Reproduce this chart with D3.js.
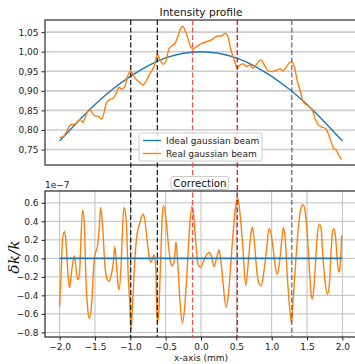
<!DOCTYPE html>
<html><head><meta charset="utf-8">
<script src="https://cdn.jsdelivr.net/npm/d3@7/dist/d3.min.js"></script>
<style>body{margin:0;background:#fff}svg{display:block;font-family:"DejaVu Sans",sans-serif}</style>
</head><body><svg id="c" width="355" height="364"></svg>
<script>
// ---------- data ----------
const xTicks = [-2.0,-1.5,-1.0,-0.5,0.0,0.5,1.0,1.5,2.0];
const topYTicks = [0.75,0.80,0.85,0.90,0.95,1.00,1.05];
const botYTicks = [-0.8,-0.6,-0.4,-0.2,0.0,0.2,0.4,0.6];
const seriesNames = ["Ideal gaussian beam","Real gaussian beam"];
const idealX = [-2,-1.75,-1.5,-1.25,-1,-0.75,-0.5,-0.25,0,0.25,0.5,0.75,1,1.25,1.5,1.75,2];
const idealY = [0.772,0.820,0.865,0.904,0.937,0.964,0.984,0.996,1.0,0.996,0.984,0.964,0.937,0.904,0.865,0.820,0.772];
const realX = [-2.0,-1.95,-1.90,-1.86,-1.83,-1.78,-1.74,-1.71,-1.67,-1.64,-1.58,-1.51,-1.45,-1.41,-1.38,-1.34,-1.29,-1.24,-1.19,-1.16,-1.12,-1.075,-1.04,-0.994,-0.957,-0.91,-0.863,-0.825,-0.78,-0.735,-0.69,-0.65,-0.618,-0.58,-0.533,-0.5,-0.46,-0.415,-0.368,-0.33,-0.297,-0.262,-0.2,-0.156,-0.117,-0.06,0.01,0.08,0.127,0.175,0.236,0.29,0.34,0.378,0.424,0.471,0.513,0.55,0.6,0.646,0.693,0.73,0.764,0.81,0.849,0.896,0.952,1.009,1.07,1.12,1.15,1.2,1.235,1.28,1.32,1.36,1.4,1.447,1.495,1.54,1.575,1.61,1.66,1.716,1.76,1.8,1.84,1.87,1.91,1.95,1.99];
const realY = [0.781,0.783,0.796,0.810,0.814,0.815,0.823,0.827,0.819,0.832,0.853,0.837,0.834,0.828,0.838,0.868,0.878,0.881,0.898,0.909,0.904,0.912,0.936,0.951,0.940,0.928,0.921,0.915,0.923,0.940,0.953,0.970,0.993,0.979,0.968,0.974,1.004,1.015,1.021,1.038,1.055,1.065,1.043,1.017,1.007,1.013,1.021,1.026,1.028,1.034,1.040,1.040,1.047,1.040,1.004,0.979,0.958,0.966,0.969,0.962,0.966,0.958,0.962,0.974,0.979,0.966,0.951,0.949,0.953,0.956,0.951,0.958,0.969,0.974,0.962,0.928,0.902,0.872,0.864,0.859,0.851,0.832,0.813,0.807,0.804,0.791,0.770,0.755,0.749,0.736,0.725];
const corrX = [-2.0,-1.98,-1.955,-1.93,-1.91,-1.885,-1.86,-1.83,-1.79,-1.77,-1.745,-1.72,-1.70,-1.675,-1.65,-1.63,-1.60,-1.58,-1.545,-1.52,-1.5,-1.467,-1.44,-1.42,-1.39,-1.36,-1.33,-1.3,-1.27,-1.24,-1.22,-1.195,-1.17,-1.16,-1.13,-1.11,-1.09,-1.06,-1.03,-1.005,-0.99,-0.966,-0.935,-0.91,-0.874,-0.84,-0.816,-0.79,-0.76,-0.73,-0.707,-0.683,-0.665,-0.64,-0.618,-0.6,-0.57,-0.547,-0.528,-0.495,-0.46,-0.43,-0.41,-0.38,-0.354,-0.33,-0.297,-0.264,-0.236,-0.2,-0.165,-0.13,-0.11,-0.07,-0.04,-0.005,0.03,0.08,0.113,0.15,0.184,0.22,0.255,0.283,0.315,0.354,0.386,0.434,0.48,0.52,0.55,0.59,0.632,0.67,0.70,0.726,0.755,0.79,0.82,0.85,0.89,0.93,0.96,0.99,1.02,1.056,1.08,1.107,1.14,1.165,1.19,1.22,1.25,1.28,1.305,1.34,1.376,1.414,1.447,1.48,1.51,1.535,1.56,1.575,1.6,1.63,1.65,1.675,1.70,1.72,1.755,1.787,1.815,1.84,1.863,1.88,1.905,1.93,1.95,1.97,1.99];
const corrY = [-0.52,-0.18,0.23,0.29,0.18,-0.14,-0.32,-0.14,0.03,-0.09,-0.23,-0.18,0.18,0.52,0.36,-0.18,-0.57,-0.65,-0.47,-0.11,0.04,0.12,0.32,0.55,0.32,-0.07,-0.22,-0.25,-0.18,-0.04,0.13,-0.07,-0.31,-0.34,-0.07,0.32,0.55,0.43,-0.18,-0.54,-0.77,-0.47,0.0,0.23,0.36,0.45,0.48,0.39,0.18,0.0,-0.04,0.0,0.04,-0.11,-0.70,-0.61,0.0,0.47,0.57,0.43,0.14,-0.05,-0.08,-0.04,0.18,-0.04,-0.47,-0.70,-0.57,-0.18,0.29,0.56,0.50,0.14,-0.07,-0.10,-0.04,0.04,0.06,0.02,-0.09,0.0,0.09,-0.04,-0.29,-0.53,-0.40,0.07,0.50,0.65,0.50,0.14,-0.29,-0.04,0.22,0.34,0.18,-0.14,-0.27,-0.30,-0.14,0.11,0.32,0.27,0.11,-0.11,-0.17,-0.07,0.18,0.33,0.22,-0.18,-0.50,-0.70,-0.43,-0.04,0.32,0.54,0.58,0.47,0.18,-0.14,-0.40,-0.44,-0.29,0.07,0.29,0.37,0.32,0.07,-0.25,-0.39,-0.29,0.07,0.30,0.32,0.22,-0.04,-0.15,-0.07,0.25];
const idealCorrX = [-2, 2];
const idealCorrY = [0, 0];
const markerX = [-0.994,-0.618,-0.12,0.513,1.285];

// ---------- styles ----------
const BLUE = "#1f77b4", ORANGE = "#ff7f0e";
const markerColors = ["#111","#111","#ff4a4a","#e00000","#606060"];

const svg = d3.select("#c");
const L = 45, R = 357;
const x = d3.scaleLinear().domain([-2.207, 2.207]).range([L, R]);
const T1 = 20, B1 = 165, T2 = 191, B2 = 337;
const y1 = d3.scaleLinear().domain([0.7105, 1.081]).range([B1, T1]);
const y2 = d3.scaleLinear().domain([-0.85, 0.728]).range([B2, T2]);

svg.append("clipPath").attr("id","cp1").append("rect").attr("x",L).attr("y",T1).attr("width",R-L).attr("height",B1-T1);
svg.append("clipPath").attr("id","cp2").append("rect").attr("x",L).attr("y",T2).attr("width",R-L).attr("height",B2-T2);

// ---- top grid
const g1 = svg.append("g");
g1.selectAll("line.gy").data(topYTicks).join("line")
  .attr("x1",L).attr("x2",R).attr("y1",d=>y1(d)).attr("y2",d=>y1(d))
  .attr("stroke","#cccccc").attr("stroke-width",1.6);

// ---- bottom grid
const g2 = svg.append("g");
g2.selectAll("line.gy").data(botYTicks).join("line")
  .attr("x1",L).attr("x2",R).attr("y1",d=>y2(d)).attr("y2",d=>y2(d))
  .attr("stroke","#bdbdbd").attr("stroke-width",1);
g2.selectAll("line.gx").data(xTicks).join("line")
  .attr("y1",T2).attr("y2",B2).attr("x1",d=>x(d)).attr("x2",d=>x(d))
  .attr("stroke","#bdbdbd").attr("stroke-width",1);

// ---- lines
const p1 = svg.append("g").attr("clip-path","url(#cp1)");
p1.append("path").datum(idealX.map((v,i)=>[v,idealY[i]]))
  .attr("d", d3.line().x(d=>x(d[0])).y(d=>y1(d[1])).curve(d3.curveNatural)).attr("fill","none").attr("stroke",BLUE).attr("stroke-width",1.4);
p1.append("path").datum(realX.map((v,i)=>[v,realY[i]]))
  .attr("d", d3.line().x(d=>x(d[0])).y(d=>y1(d[1])).curve(d3.curveMonotoneX)).attr("fill","none").attr("stroke",ORANGE).attr("stroke-width",1.4);

const p2 = svg.append("g").attr("clip-path","url(#cp2)");
p2.append("path").datum(corrX.map((v,i)=>[v,corrY[i]]))
  .attr("d", d3.line().x(d=>x(d[0])).y(d=>y2(d[1])).curve(d3.curveMonotoneX)).attr("fill","none").attr("stroke",ORANGE).attr("stroke-width",1.4);
p2.append("path").datum(idealCorrX.map((v,i)=>[v,idealCorrY[i]]))
  .attr("d", d3.line().x(d=>x(d[0])).y(d=>y2(d[1]))).attr("fill","none").attr("stroke",BLUE).attr("stroke-width",1.6);

// ---- axes (ticks + labels)
const fmtComma = v => d3.format(".2f")(v).replace(".", ",");
const ay1 = svg.append("g").attr("transform",`translate(${L},0)`)
  .call(d3.axisLeft(y1).tickValues(topYTicks).tickFormat(fmtComma).tickSize(3.5).tickPadding(3));
const ay2 = svg.append("g").attr("transform",`translate(${L},0)`)
  .call(d3.axisLeft(y2).tickValues(botYTicks).tickFormat(d3.format(".1f")).tickSize(3.5).tickPadding(3));
const ax2 = svg.append("g").attr("transform",`translate(0,${B2})`)
  .call(d3.axisBottom(x).tickValues(xTicks).tickFormat(d3.format(".1f")).tickSize(3.5).tickPadding(3));
[ay1, ay2, ax2].forEach(a => {
  a.select(".domain").remove();
  a.selectAll("text").attr("font-size", 9).attr("fill","#222").attr("font-family","DejaVu Sans");
  a.selectAll("line").attr("stroke","#222");
});

// ---- spines
svg.append("rect").attr("x",L).attr("y",T1).attr("width",R-L).attr("height",B1-T1)
  .attr("fill","none").attr("stroke","#555").attr("stroke-width",1.5);
svg.append("rect").attr("x",L).attr("y",T2).attr("width",R-L).attr("height",B2-T2)
  .attr("fill","none").attr("stroke","#111").attr("stroke-width",1.1);

// ---- vertical markers
svg.selectAll("line.mk").data(markerX).join("line")
  .attr("x1",d=>x(d)).attr("x2",d=>x(d)).attr("y1",T1).attr("y2",B2)
  .attr("stroke",(d,i)=>markerColors[i]).attr("stroke-width",1.2).attr("stroke-dasharray","5,2.5");

// ---- legend (on top of markers)
const lg = svg.append("g");
lg.append("rect").attr("x",139).attr("y",133).attr("width",123).attr("height",28).attr("rx",2)
  .attr("fill","#fff").attr("fill-opacity",0.9).attr("stroke","#cccccc");
[BLUE, ORANGE].forEach((c,i) => {
  const yy = 140.5 + i*13;
  lg.append("line").attr("x1",143).attr("x2",161).attr("y1",yy).attr("y2",yy).attr("stroke",c).attr("stroke-width",1.4);
  lg.append("text").attr("x",166).attr("y",yy+3.2).attr("font-size",9).attr("fill","#222").text(seriesNames[i]);
});

// ---- titles
svg.append("text").attr("x",201).attr("y",16).attr("text-anchor","middle").attr("font-size",10.6).attr("fill","#111").text("Intensity profile");
svg.append("rect").attr("x",171).attr("y",176.5).attr("width",57.5).attr("height",13).attr("rx",2)
  .attr("fill","#fff").attr("stroke","#cccccc");
svg.append("text").attr("x",200).attr("y",186.5).attr("text-anchor","middle").attr("font-size",10.3).attr("fill","#111").text("Correction");

// ---- labels
svg.append("text").attr("x",45).attr("y",187.5).attr("font-size",9).attr("fill","#222").text("1e\u22127");
svg.append("text").attr("x",201).attr("y",361).attr("text-anchor","middle").attr("font-size",9).attr("fill","#222").text("x-axis (mm)");
svg.append("text").attr("transform","translate(19,257) rotate(-90)").attr("text-anchor","middle")
  .attr("font-size",15.5).attr("font-style","italic").attr("font-family","DejaVu Serif").attr("fill","#111")
  .text("\u03B4k/k");
</script></body></html>
